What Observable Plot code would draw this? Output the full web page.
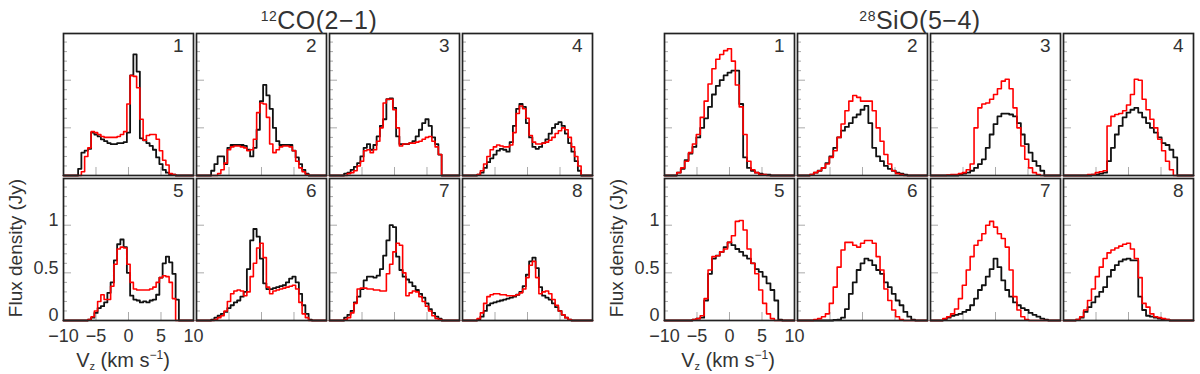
<!DOCTYPE html>
<html><head><meta charset="utf-8">
<script src="https://cdn.jsdelivr.net/npm/d3@7"></script>
<script src="https://cdn.jsdelivr.net/npm/@observablehq/plot@0.6"></script>
<style>
body{margin:0;background:#fff;}
#wrap{position:relative;width:1200px;height:374px;overflow:hidden;font-family:"Liberation Sans",Arial,sans-serif;color:#222;}
.abs{position:absolute;white-space:nowrap;line-height:1;}
.plot{position:absolute;top:0;}
</style></head><body><div id="wrap"></div>
<script>
// ---------- 12CO(2-1): channel centres (km/s), width 0.5 ----------
const coV = [-8,-7.5,-7,-6.5,-6,-5.5,-5,-4.5,-4,-3.5,-3,-2.5,-2,-1.5,-1,-0.5,0,0.5,1,1.5,2,2.5,3,3.5,4,4.5,5,5.5,6,6.5,7,7.5,8,8.5];
const coWidth = 0.5;
const coBlack1 = [0,0.07,0.24,0.26,0.28,0.45,0.43,0.41,0.38,0.36,0.34,0.33,0.33,0.34,0.34,0.35,0.45,1.05,1.27,1.09,0.39,0.37,0.34,0.31,0.27,0.19,0.12,0.06,0.03,0.01,0.01,0,0,0];
const coRed1   = [0,0,0.04,0.20,0.29,0.46,0.45,0.43,0.41,0.40,0.40,0.40,0.40,0.41,0.43,0.46,0.75,1.05,1.04,0.92,0.59,0.37,0.42,0.43,0.43,0.38,0.26,0.16,0.11,0.02,0.01,0,0,0];
const coBlack2 = [0,0.05,0.12,0.20,0.20,0.12,0.29,0.32,0.32,0.32,0.32,0.31,0.27,0.20,0.29,0.48,0.78,0.95,0.84,0.70,0.50,0.36,0.32,0.32,0.32,0.32,0.26,0.19,0.12,0.06,0.02,0,0,0];
const coRed2   = [0,0,0,0.02,0.06,0.13,0.27,0.30,0.31,0.31,0.30,0.29,0.26,0.27,0.38,0.66,0.76,0.75,0.61,0.33,0.24,0.27,0.30,0.31,0.31,0.30,0.26,0.15,0.08,0.04,0.01,0,0,0];
const coBlack3 = [0,0.02,0.03,0.06,0.09,0.13,0.20,0.29,0.33,0.27,0.32,0.41,0.52,0.59,0.80,0.81,0.71,0.41,0.33,0.33,0.33,0.34,0.36,0.41,0.48,0.55,0.59,0.52,0.40,0.33,0.22,0,0,0];
const coRed3   = [0,0,0.02,0.03,0.05,0.10,0.15,0.26,0.27,0.24,0.27,0.36,0.50,0.76,0.80,0.80,0.69,0.50,0.31,0.33,0.33,0.34,0.34,0.35,0.36,0.38,0.40,0.41,0.36,0.30,0.22,0,0,0];
const coBlack4 = [0,0.01,0.03,0.08,0.14,0.18,0.22,0.26,0.28,0.27,0.25,0.35,0.52,0.70,0.75,0.72,0.55,0.40,0.30,0.28,0.30,0.34,0.38,0.44,0.50,0.54,0.56,0.52,0.44,0.34,0.25,0.15,0.05,0];
const coRed4   = [0,0.01,0.05,0.12,0.20,0.27,0.30,0.32,0.31,0.30,0.30,0.32,0.45,0.65,0.73,0.70,0.60,0.42,0.35,0.33,0.33,0.34,0.35,0.37,0.40,0.44,0.47,0.50,0.48,0.40,0.30,0.20,0.10,0];
const coBlack5 = [0,0,0,0,0.01,0.03,0.08,0.13,0.15,0.19,0.29,0.40,0.63,0.80,0.85,0.77,0.50,0.26,0.22,0.21,0.19,0.20,0.19,0.21,0.22,0.27,0.45,0.60,0.67,0.61,0.49,0.22,0,0];
const coRed5   = [0,0,0,0,0.01,0.04,0.10,0.20,0.27,0.22,0.22,0.36,0.59,0.75,0.77,0.76,0.59,0.40,0.33,0.32,0.32,0.32,0.32,0.33,0.35,0.40,0.45,0.47,0.46,0.40,0.23,0,0,0];
const coBlack6 = [0,0.01,0.03,0.05,0.07,0.09,0.13,0.16,0.19,0.21,0.25,0.30,0.54,0.84,0.96,0.88,0.65,0.39,0.33,0.33,0.34,0.35,0.36,0.37,0.40,0.44,0.46,0.40,0.28,0.16,0.07,0.01,0,0];
const coRed6   = [0,0,0.01,0.03,0.05,0.10,0.20,0.28,0.31,0.32,0.31,0.26,0.30,0.46,0.60,0.76,0.81,0.66,0.35,0.28,0.31,0.32,0.33,0.34,0.35,0.36,0.37,0.33,0.19,0.07,0.03,0,0,0];
const coBlack7 = [0,0.03,0.06,0.10,0.19,0.25,0.33,0.42,0.46,0.46,0.45,0.47,0.54,0.68,0.84,1.00,0.98,0.67,0.53,0.46,0.43,0.40,0.36,0.32,0.28,0.24,0.18,0.12,0.08,0.04,0.02,0,0,0];
const coRed7   = [0,0.01,0.03,0.08,0.18,0.33,0.34,0.34,0.33,0.33,0.32,0.32,0.31,0.31,0.49,0.59,0.72,0.81,0.79,0.50,0.26,0.29,0.31,0.30,0.25,0.20,0.15,0.10,0.05,0.02,0.01,0,0,0];
const coBlack8 = [0,0.01,0.04,0.10,0.16,0.18,0.19,0.20,0.21,0.22,0.23,0.24,0.25,0.27,0.30,0.36,0.48,0.62,0.66,0.55,0.35,0.26,0.24,0.22,0.18,0.14,0.10,0.06,0.03,0.01,0,0,0,0];
const coRed8   = [0,0.02,0.08,0.18,0.25,0.27,0.28,0.28,0.27,0.27,0.26,0.26,0.26,0.27,0.29,0.33,0.45,0.58,0.62,0.45,0.28,0.30,0.31,0.28,0.22,0.16,0.10,0.06,0.03,0.01,0,0,0,0];

// ---------- 28SiO(5-4): channel centres (km/s), width 0.6 ----------
const siV = [-8.4,-7.8,-7.2,-6.6,-6,-5.4,-4.8,-4.2,-3.6,-3,-2.4,-1.8,-1.2,-0.6,0,0.6,1.2,1.8,2.4,3,3.6,4.2,4.8,5.4,6,6.6,7.2,7.8,8.4];
const siWidth = 0.6;
const siBlack1 = [0,0.03,0.07,0.16,0.23,0.30,0.40,0.50,0.60,0.72,0.85,0.94,1.00,1.05,1.08,1.10,1.10,0.75,0.19,0.08,0.05,0.03,0.02,0.01,0.01,0,0,0,0];
const siRed1   = [0,0.03,0.08,0.15,0.24,0.33,0.43,0.61,0.78,0.96,1.12,1.22,1.27,1.31,1.33,1.20,0.95,0.72,0.43,0.15,0.06,0.03,0.01,0.01,0,0,0,0,0];
const siBlack2 = [0,0.01,0.03,0.05,0.08,0.13,0.20,0.29,0.40,0.47,0.51,0.55,0.61,0.64,0.69,0.73,0.55,0.29,0.20,0.15,0.10,0.07,0.05,0.03,0.02,0.01,0,0,0];
const siRed2   = [0,0.01,0.03,0.05,0.08,0.12,0.19,0.26,0.40,0.54,0.68,0.78,0.84,0.82,0.78,0.78,0.78,0.68,0.50,0.36,0.22,0.12,0.05,0.02,0.01,0,0,0,0];
const siBlack3 = [0,0,0,0,0,0.01,0.02,0.03,0.05,0.08,0.12,0.17,0.29,0.43,0.54,0.62,0.65,0.65,0.64,0.62,0.55,0.43,0.33,0.24,0.15,0.10,0.05,0,0];
const siRed3   = [0,0,0.005,0.01,0.01,0.02,0.03,0.06,0.12,0.50,0.71,0.75,0.76,0.80,0.85,0.91,0.99,1.01,0.91,0.71,0.50,0.31,0.17,0.08,0.03,0.01,0,0,0];
const siBlack4 = [0,0,0,0,0,0.01,0.01,0.02,0.03,0.15,0.29,0.43,0.52,0.61,0.66,0.69,0.71,0.66,0.61,0.55,0.50,0.45,0.40,0.34,0.32,0.27,0.19,0,0];
const siRed4   = [0,0,0,0,0.01,0.01,0.03,0.04,0.05,0.52,0.62,0.64,0.65,0.68,0.74,0.85,1.01,1.00,0.80,0.69,0.59,0.50,0.38,0.26,0.15,0.06,0,0,0];
const siBlack5 = [0,0,0,0,0,0.01,0.02,0.03,0.21,0.49,0.65,0.68,0.72,0.77,0.82,0.79,0.75,0.72,0.68,0.65,0.60,0.54,0.51,0.46,0.39,0.32,0.21,0.01,0];
const siRed5   = [0,0,0,0,0,0.01,0.02,0.05,0.23,0.53,0.67,0.68,0.72,0.75,0.82,0.89,1.04,1.05,0.95,0.75,0.60,0.49,0.32,0.18,0.07,0.02,0,0,0];
const siBlack6 = [0,0,0,0,0,0,0,0.005,0.01,0.03,0.12,0.28,0.40,0.53,0.60,0.65,0.63,0.58,0.53,0.49,0.40,0.35,0.28,0.21,0.16,0.09,0.04,0.01,0];
const siRed6   = [0,0,0.01,0.02,0.04,0.07,0.18,0.35,0.56,0.74,0.82,0.82,0.79,0.77,0.81,0.84,0.84,0.81,0.67,0.53,0.33,0.21,0.11,0.04,0.01,0,0,0,0];
const siBlack7 = [0,0.01,0.03,0.05,0.06,0.07,0.09,0.11,0.16,0.23,0.32,0.37,0.46,0.54,0.65,0.56,0.42,0.32,0.25,0.19,0.16,0.13,0.11,0.08,0.06,0.04,0.02,0.01,0];
const siRed7   = [0,0.02,0.04,0.07,0.12,0.23,0.37,0.53,0.67,0.79,0.84,0.91,1.00,1.04,0.98,0.91,0.86,0.77,0.53,0.25,0.11,0.04,0.01,0,0,0,0,0,0];
const siBlack8 = [0,0.01,0.03,0.09,0.14,0.19,0.25,0.30,0.35,0.46,0.53,0.58,0.62,0.64,0.65,0.63,0.63,0.25,0.11,0.05,0.04,0.03,0.02,0.01,0.01,0,0,0,0];
const siRed8   = [0,0.01,0.04,0.11,0.21,0.33,0.46,0.56,0.65,0.71,0.74,0.76,0.78,0.80,0.81,0.75,0.65,0.45,0.18,0.14,0.07,0.04,0.03,0.02,0.01,0,0,0,0];

const panelNumbers = [1,2,3,4,5,6,7,8];
const xMajorTicks = [-10,-5,0,5,10];
const xTickLabels = ["\u221210","\u22125","0","5","10"];
const yMajorTicks = [0,0.5,1];
const yMinorTicks = [0.1,0.2,0.3,0.4,0.6,0.7,0.8,0.9,1.1,1.2,1.3,1.4];
const yTickLabels = ["0","0.5","1"];

const coPanels = [[coBlack1,coRed1],[coBlack2,coRed2],[coBlack3,coRed3],[coBlack4,coRed4],[coBlack5,coRed5],[coBlack6,coRed6],[coBlack7,coRed7],[coBlack8,coRed8]];
const siPanels = [[siBlack1,siRed1],[siBlack2,siRed2],[siBlack3,siRed3],[siBlack4,siRed4],[siBlack5,siRed5],[siBlack6,siRed6],[siBlack7,siRed7],[siBlack8,siRed8]];

function histRows(centers, width, values, n, series) {
  const col = (n - 1) % 4 + 1, row = n <= 4 ? 1 : 2;
  const pts = [{v: -10, y: 0}];
  values.forEach((y, i) => pts.push({v: centers[i] - width / 2, y}));
  pts.push({v: centers[values.length - 1] + width / 2, y: 0});
  pts.push({v: 10, y: 0});
  return pts.map(p => ({...p, col, row, series, n}));
}

const FONT = "Liberation Sans, Arial, sans-serif";

function makeGroup(panels, centers, width) {
  const black = [], red = [];
  panels.forEach(([b, r], i) => {
    black.push(...histRows(centers, width, b, i + 1, "black"));
    red.push(...histRows(centers, width, r, i + 1, "red"));
  });
  const nums = panelNumbers.map(n => ({n, col: (n - 1) % 4 + 1, row: n <= 4 ? 1 : 2}));
  return Plot.plot({
    width: 600, height: 374,
    marginLeft: 63, marginRight: 8, marginTop: 33, marginBottom: 54,
    x: {domain: [-10, 10], axis: null},
    y: {domain: [0, 1.49], axis: null},
    fx: {domain: [1,2,3,4], paddingInner: 0.0226, paddingOuter: 0, axis: null, round: false},
    fy: {domain: [1,2], paddingInner: 0.0207, paddingOuter: 0, axis: null, round: false},
    style: {fontFamily: FONT, fontSize: "18px", color: "#222", background: "transparent", overflow: "visible"},
    marks: [
      Plot.axisY(yMinorTicks, {anchor: "left", tickSize: -4, stroke: "#aaa", tickFormat: () => "", label: null, facetAnchor: null}),
      Plot.axisY(yMajorTicks, {anchor: "left", tickSize: -8, stroke: "#aaa", tickFormat: () => "", label: null, facetAnchor: null}),
      Plot.axisX(xMajorTicks, {anchor: "bottom", tickSize: -8, stroke: "#aaa", tickFormat: () => "", label: null, facetAnchor: null}),
      Plot.line(black, {x: "v", y: "y", z: "n", fx: "col", fy: "row", curve: "step-after", stroke: "#111", strokeWidth: 1.8}),
      Plot.line(red, {x: "v", y: "y", z: "n", fx: "col", fy: "row", curve: "step-after", stroke: "#ff0000", strokeWidth: 1.6}),
      Plot.frame({stroke: "#222", strokeWidth: 1.7}),
      Plot.text(nums, {fx: "col", fy: "row", text: d => String(d.n), frameAnchor: "top-right", dx: -10, dy: 5, fontSize: 19, fill: "#333"}),
      Plot.text(xMajorTicks, {x: d => d, y: () => 0, fx: () => 1, fy: () => 2, text: (d, i) => xTickLabels[i], lineAnchor: "top", dy: 9, fill: "#333"}),
      Plot.text(yMajorTicks, {y: d => d, fx: () => 1, fy: () => 2, frameAnchor: "left", text: (d, i) => yTickLabels[i], textAnchor: "end", dx: -5, dy: -5, fill: "#333"})
    ]
  });
}

const wrap = document.getElementById("wrap");
function place(el, left) { el.classList.add("plot"); el.style.left = left + "px"; wrap.appendChild(el); }
place(makeGroup(coPanels, coV, coWidth), 0);
place(makeGroup(siPanels, siV, siWidth), 601);

function addText(html, x, y, extra) {
  const d = document.createElement("div");
  d.className = "abs";
  d.innerHTML = html;
  d.style.left = x + "px"; d.style.top = y + "px";
  d.style.transform = "translate(-50%,-50%)" + (extra || "");
  wrap.appendChild(d);
  return d;
}
const t1 = addText("<sup style='font-size:14px;vertical-align:8px'>12</sup>CO(2\u22121)", 319, 20);
const t2 = addText("<sup style='font-size:14px;vertical-align:8px'>28</sup>SiO(5\u22124)", 920, 20);
[t1, t2].forEach(t => { t.style.fontSize = "25px"; t.style.color = "#333"; t.style.letterSpacing = "0.5px"; });
const yl1 = addText("Flux density (Jy)", 15, 248, " rotate(-90deg)");
const yl2 = addText("Flux density (Jy)", 616, 248, " rotate(-90deg)");
const xl1 = addText("V<sub style='font-size:11px;vertical-align:-3px'>z</sub> (km s<sup style='font-size:12px;vertical-align:8px'>\u22121</sup>)", 123, 360);
const xl2 = addText("V<sub style='font-size:11px;vertical-align:-3px'>z</sub> (km s<sup style='font-size:12px;vertical-align:8px'>\u22121</sup>)", 728, 360);
[yl1, yl2].forEach(t => { t.style.fontSize = "19px"; t.style.color = "#333"; });
[xl1, xl2].forEach(t => { t.style.fontSize = "20px"; t.style.color = "#333"; });
</script>
</body></html>
